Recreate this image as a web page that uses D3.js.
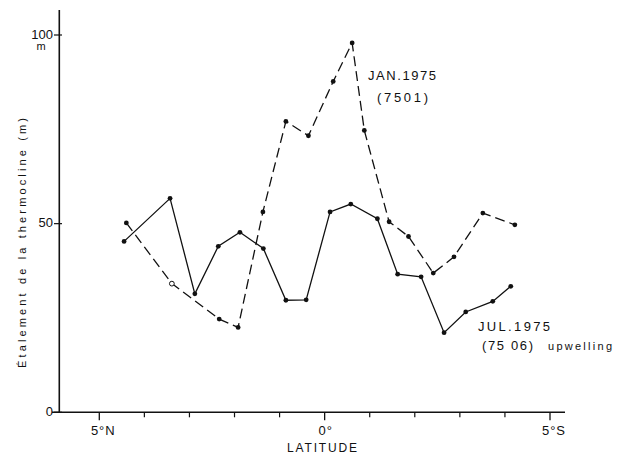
<!DOCTYPE html>
<html>
<head>
<meta charset="utf-8">
<script src="https://cdn.jsdelivr.net/npm/d3@7"></script>
<style>
  html, body { margin: 0; padding: 0; background: #fff; }
  svg { display: block; }
  text { font-family: "Liberation Sans", "DejaVu Sans", sans-serif; fill: #111; }
</style>
</head>
<body>
<script>
// Latitude in degrees (north positive) and thermocline spread in metres
const julLat = [4.45, 3.43, 2.88, 2.36, 1.88, 1.36, 0.86, 0.41, -0.12, -0.58, -1.17, -1.62, -2.14, -2.65, -3.13, -3.73, -4.13];
const julVal = [45.3, 56.7, 31.4, 44.0, 47.7, 43.4, 29.7, 29.8, 53.1, 55.2, 51.3, 36.6, 35.9, 21.1, 26.6, 29.4, 33.4];

const janLat = [4.40, 3.39, 2.34, 1.92, 1.37, 0.86, 0.36, -0.19, -0.61, -0.88, -1.43, -1.86, -2.41, -2.87, -3.51, -4.22];
const janVal = [50.2, 34.1, 24.7, 22.5, 53.1, 77.1, 73.3, 87.7, 97.9, 74.7, 50.5, 46.6, 36.9, 41.2, 52.8, 49.7];
const janOpen = [false, true, false, false, false, false, false, false, false, false, false, false, false, false, false, false];

const yTicks = [0, 50, 100];
const xMajor = [5, 0, -5];
const xMajorLabels = ["5°N", "0°", "5°S"];
const xMinor = [4, 3, 2, 1, -1, -2, -3, -4];

const W = 626, H = 457;
const svg = d3.select("body").append("svg").attr("width", W).attr("height", H);

const x = d3.scaleLinear().domain([5, -5]).range([99.3, 550]);
const y = d3.scaleLinear().domain([0, 100]).range([412.3, 35]);

const ink = "#111";

// Axes
svg.append("line").attr("x1", 59.3).attr("x2", 59.3).attr("y1", 10).attr("y2", y(0))
  .attr("stroke", ink).attr("stroke-width", 1.6);
svg.append("line").attr("x1", 52).attr("x2", 565).attr("y1", y(0)).attr("y2", y(0))
  .attr("stroke", ink).attr("stroke-width", 1.4);

// y ticks and labels
yTicks.forEach(v => {
  svg.append("line").attr("x1", 54).attr("x2", 62).attr("y1", y(v)).attr("y2", y(v))
    .attr("stroke", ink).attr("stroke-width", 1.2);
  svg.append("text").attr("x", 53).attr("y", y(v) - 1).attr("dy", "0.35em")
    .attr("text-anchor", "end").attr("font-size", 13).text(v);
});
svg.append("text").attr("x", 41).attr("y", 50).attr("text-anchor", "middle")
  .attr("font-size", 11).text("m");

// x ticks
xMajor.forEach((v, i) => {
  svg.append("line").attr("x1", x(v)).attr("x2", x(v)).attr("y1", y(0)).attr("y2", y(0) + 8)
    .attr("stroke", ink).attr("stroke-width", 1.3);
  svg.append("text").attr("x", x(v) + (i === 1 ? 1 : 4)).attr("y", 435)
    .attr("text-anchor", "middle").attr("font-size", 13)
    .attr("letter-spacing", "1px").text(xMajorLabels[i]);
});
xMinor.forEach(v => {
  svg.append("line").attr("x1", x(v)).attr("x2", x(v)).attr("y1", y(0)).attr("y2", y(0) + 5)
    .attr("stroke", ink).attr("stroke-width", 1.2);
});

// Axis titles
svg.append("text").attr("x", 322).attr("y", 452).attr("text-anchor", "middle")
  .attr("font-size", 12).attr("textLength", 70).attr("lengthAdjust", "spacing").text("LATITUDE");
svg.append("text")
  .attr("transform", "translate(26,243) rotate(-90)")
  .attr("text-anchor", "middle").attr("font-size", 11)
  .attr("textLength", 250).attr("lengthAdjust", "spacing")
  .text("Étalement de la thermocline (m)");

// Series
const line = d3.line().x(d => x(d[0])).y(d => y(d[1]));
const julPts = julLat.map((v, i) => [v, julVal[i]]);
const janPts = janLat.map((v, i) => [v, janVal[i]]);

svg.append("path").datum(julPts).attr("d", line).attr("fill", "none")
  .attr("stroke", ink).attr("stroke-width", 1.3);
svg.append("path").datum(janPts).attr("d", line).attr("fill", "none")
  .attr("stroke", ink).attr("stroke-width", 1.3).attr("stroke-dasharray", "10,5");

svg.selectAll(".jul").data(julPts).enter().append("circle")
  .attr("cx", d => x(d[0])).attr("cy", d => y(d[1])).attr("r", 2.4).attr("fill", ink);
svg.selectAll(".jan").data(janPts).enter().append("circle")
  .attr("cx", d => x(d[0])).attr("cy", d => y(d[1])).attr("r", 2.4)
  .attr("fill", (d, i) => janOpen[i] ? "#fff" : ink)
  .attr("stroke", ink).attr("stroke-width", (d, i) => janOpen[i] ? 1 : 0);

// Series labels
svg.append("text").attr("x", 368).attr("y", 80).attr("font-size", 13)
  .attr("textLength", 68).attr("lengthAdjust", "spacing").text("JAN.1975");
svg.append("text").attr("x", 377).attr("y", 102).attr("font-size", 13)
  .attr("textLength", 51).attr("lengthAdjust", "spacing").text("(7501)");
svg.append("text").attr("x", 478).attr("y", 331).attr("font-size", 13)
  .attr("textLength", 72).attr("lengthAdjust", "spacing").text("JUL.1975");
svg.append("text").attr("x", 482).attr("y", 350).attr("font-size", 13)
  .attr("textLength", 51).attr("lengthAdjust", "spacing").text("(75 06)");
svg.append("text").attr("x", 548).attr("y", 350).attr("font-size", 11)
  .attr("textLength", 64).attr("lengthAdjust", "spacing").text("upwelling");
</script>
</body>
</html>
